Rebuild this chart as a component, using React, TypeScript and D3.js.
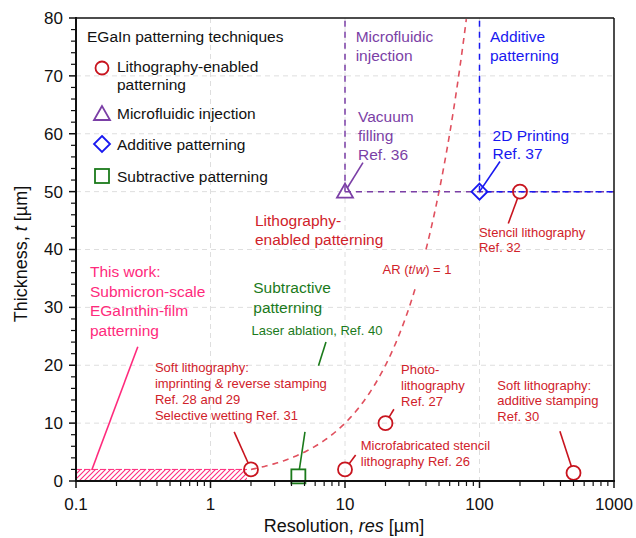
import * as d3 from "d3";
import { useEffect } from "react";

// axis ticks
const xTicks = [0.1, 1, 10, 100, 1000];
const yTicks = [0, 10, 20, 30, 40, 50, 60, 70, 80];

// EGaIn patterning techniques: resolution res [µm] and thickness t [µm]
const lithoRes = [2, 10, 20, 200, 500];
const lithoT = [2, 2, 10, 50, 1.4];
const microRes = [10];
const microT = [50];
const addRes = [100];
const addT = [50];
const subRes = [4.5];
const subT = [0.8];
// this work: hatched band
const thisWorkRes = [0.1, 2];
const thisWorkT = [0, 2];
// AR (t/w) = 1 line, t = res, with a gap for its label
const arStart = 2;
const arEnd = 80;
const arGap = [34, 40];

const W = 636;
const H = 538;
const FONT = "'Liberation Sans', Arial, Helvetica, sans-serif";

const RED = "#c8141e";
const RED_TXT = "#d0222a";
const PINK = "#ff2a7c";
const PURPLE = "#7b3fa6";
const BLUE = "#1818f0";
const GREEN = "#1b7a1b";

const x = d3.scaleLog().domain([0.1, 1000]).range([76, 614]);
const y = d3.scaleLinear().domain([0, 80]).range([481, 18]);

type Note = { lines: string[]; res: number; t: number; color: string; size: number; gap: number };

const notes: Note[] = [
  { lines: ["Microfluidic", "injection"], res: 12, t: 75.8, color: PURPLE, size: 15.5, gap: 18.5 },
  { lines: ["Additive", "patterning"], res: 119.7, t: 75.8, color: BLUE, size: 15.5, gap: 18.5 },
  { lines: ["Vacuum", "filling", "Ref. 36"], res: 12.5, t: 62, color: PURPLE, size: 15.5, gap: 19 },
  { lines: ["2D Printing", "Ref. 37"], res: 125, t: 58.8, color: BLUE, size: 15.5, gap: 18.5 },
  { lines: ["Stencil lithography", "Ref. 32"], res: 99, t: 42.1, color: RED_TXT, size: 13, gap: 15 },
  { lines: ["Lithography-", "enabled patterning"], res: 2.14, t: 44.1, color: RED_TXT, size: 15.5, gap: 19.3 },
  { lines: ["Subtractive", "patterning"], res: 2.08, t: 32.5, color: GREEN, size: 15.5, gap: 20 },
  { lines: ["Laser ablation, Ref. 40"], res: 2.02, t: 25.2, color: GREEN, size: 13, gap: 15 },
  { lines: ["This work:", "Submicron-scale", "EGaInthin-film", "patterning"], res: 0.127, t: 35.2, color: PINK, size: 15.5, gap: 19.5 },
  { lines: ["Soft lithography:", "imprinting & reverse stamping", "Ref. 28 and 29", "Selective wetting Ref. 31"], res: 0.386, t: 18.8, color: RED_TXT, size: 13, gap: 15.8 },
  { lines: ["Photo-", "lithography", "Ref. 27"], res: 26.1, t: 18.5, color: RED_TXT, size: 13, gap: 16 },
  { lines: ["Microfabricated stencil", "lithography Ref. 26"], res: 13.1, t: 5.4, color: RED_TXT, size: 13, gap: 16 },
  { lines: ["Soft lithography:", "additive stamping", "Ref. 30"], res: 135.6, t: 15.8, color: RED_TXT, size: 13, gap: 15.5 },
];

// leader lines: from label end to a marker, shortened by px at the marker end
type Leader = { from: [number, number]; to: [number, number]; cut: number; color: string };
const leaders: Leader[] = [
  { from: [0.131, 1.9], to: [0.288, 23.2], cut: 0, color: PINK },
  { from: [1.5, 8.5], to: [lithoRes[0], lithoT[0]], cut: 7, color: RED },
  { from: [7.22, 24.0], to: [6.35, 19.9], cut: 0, color: GREEN },
  { from: [5.04, 8.47], to: [subRes[0], subT[0]], cut: 7, color: GREEN },
  { from: [13.6, 55.0], to: [microRes[0], microT[0]], cut: 4, color: PURPLE },
  { from: [142, 55.2], to: [addRes[0], addT[0]], cut: 0, color: BLUE },
  { from: [163.7, 44.5], to: [lithoRes[3], lithoT[3]], cut: 7, color: RED },
  { from: [23.1, 12.4], to: [lithoRes[2], lithoT[2]], cut: 7, color: RED },
  { from: [12.0, 4.5], to: [lithoRes[1], lithoT[1]], cut: 7, color: RED },
  { from: [396, 8.6], to: [lithoRes[4], lithoT[4]], cut: 7, color: RED },
];

function Circle({ cx, cy, r = 7, color }: any) {
  return <circle cx={cx} cy={cy} r={r} fill="none" stroke={color} strokeWidth={1.8} />;
}
function Triangle({ cx, cy, color }: any) {
  const p = `${cx},${cy - 8} ${cx - 8},${cy + 6} ${cx + 8},${cy + 6}`;
  return <polygon points={p} fill="none" stroke={color} strokeWidth={1.8} />;
}
function Diamond({ cx, cy, color }: any) {
  const p = `${cx},${cy - 8} ${cx + 8},${cy} ${cx},${cy + 8} ${cx - 8},${cy}`;
  return <polygon points={p} fill="none" stroke={color} strokeWidth={1.8} />;
}
function Square({ cx, cy, color }: any) {
  return <rect x={cx - 7} y={cy - 7} width={14} height={14} fill="none" stroke={color} strokeWidth={1.8} />;
}

function arPath(a: number, b: number) {
  const pts = d3.range(Math.log10(a), Math.log10(b) + 1e-9, 0.01).map((l) => Math.pow(10, l));
  return d3.line<number>().x((d) => x(d)).y((d) => y(d))(pts) || "";
}

export default function App() {
  useEffect(() => {
    document.body.style.margin = "0";
  }, []);

  const minorX: number[] = [];
  [0.1, 1, 10, 100].forEach((dec) => {
    for (let k = 2; k <= 9; k++) minorX.push(dec * k);
  });
  const minorY = d3.range(0, 81, 2).filter((v) => v % 10 !== 0);

  const leaderPts = (l: Leader) => {
    const x1 = x(l.from[0]), y1 = y(l.from[1]);
    let x2 = x(l.to[0]), y2 = y(l.to[1]);
    const dx = x2 - x1, dy = y2 - y1;
    const len = Math.hypot(dx, dy);
    x2 -= (dx / len) * l.cut;
    y2 -= (dy / len) * l.cut;
    return { x1, y1, x2, y2 };
  };

  return (
    <svg width={W} height={H} style={{ display: "block" }} fontFamily={FONT}>
      <defs>
        <pattern id="hatch" width={5} height={5} patternUnits="userSpaceOnUse">
          <path d="M-1,6 L6,-1 M-1,1 L1,-1 M4,6 L6,4" stroke={PINK} strokeWidth={1.1} />
        </pattern>
      </defs>
      <rect width={W} height={H} fill="#fff" />

      {/* grid */}
      {yTicks.slice(1, -1).map((v) => (
        <line key={"gy" + v} x1={76} x2={614} y1={y(v)} y2={y(v)} stroke="#dedede" strokeDasharray="5,4" />
      ))}
      {xTicks.slice(1, -1).map((v) => (
        <line key={"gx" + v} x1={x(v)} x2={x(v)} y1={18} y2={481} stroke="#dedede" strokeDasharray="5,4" />
      ))}

      {/* this work band */}
      <rect
        x={x(thisWorkRes[0])}
        y={y(thisWorkT[1])}
        width={x(thisWorkRes[1]) - x(thisWorkRes[0]) - 4}
        height={y(thisWorkT[0]) - y(thisWorkT[1])}
        fill="url(#hatch)"
      />
      <line x1={x(thisWorkRes[0])} x2={x(thisWorkRes[1]) - 4} y1={y(thisWorkT[1])} y2={y(thisWorkT[1])} stroke={PINK} strokeWidth={1} strokeDasharray="6,2" />

      {/* AR = 1 line */}
      <path d={arPath(arStart, arGap[0])} fill="none" stroke="#e0505e" strokeWidth={1.6} strokeDasharray="6,5" />
      <path d={arPath(arGap[1], arEnd)} fill="none" stroke="#e0505e" strokeWidth={1.6} strokeDasharray="6,5" />

      {/* microfluidic & additive boundaries */}
      <line x1={x(microRes[0])} x2={x(microRes[0])} y1={y(microT[0])} y2={18} stroke={PURPLE} strokeWidth={1.5} strokeDasharray="6,5" />
      <line x1={x(microRes[0])} x2={614} y1={y(microT[0])} y2={y(microT[0])} stroke={PURPLE} strokeWidth={1.5} strokeDasharray="6,5" />
      <line x1={x(addRes[0])} x2={x(addRes[0])} y1={y(addT[0])} y2={18} stroke={BLUE} strokeWidth={1.5} strokeDasharray="6,5" />
      <line x1={x(addRes[0])} x2={614} y1={y(addT[0])} y2={y(addT[0])} stroke={BLUE} strokeWidth={1.5} strokeDasharray="6,5" strokeDashoffset={5} />

      {/* leaders */}
      {leaders.map((l, i) => {
        const p = leaderPts(l);
        return <line key={"ld" + i} {...p} stroke={l.color} strokeWidth={1.6} />;
      })}

      {/* markers */}
      {lithoRes.map((r, i) => (
        <Circle key={"c" + i} cx={x(r)} cy={y(lithoT[i])} color={RED} />
      ))}
      {microRes.map((r, i) => (
        <Triangle key={"t" + i} cx={x(r)} cy={y(microT[i])} color={PURPLE} />
      ))}
      {addRes.map((r, i) => (
        <Diamond key={"d" + i} cx={x(r)} cy={y(addT[i])} color={BLUE} />
      ))}
      {subRes.map((r, i) => (
        <Square key={"s" + i} cx={x(r)} cy={y(subT[i])} color={GREEN} />
      ))}

      {/* annotations */}
      {notes.map((n, i) => (
        <text key={"n" + i} x={x(n.res)} y={y(n.t)} fill={n.color} fontSize={n.size}>
          {n.lines.map((s, j) => (
            <tspan key={j} x={x(n.res)} dy={j === 0 ? 0 : n.gap}>
              {s}
            </tspan>
          ))}
        </text>
      ))}
      <text x={x(34.3)} y={y(35.8)} fill={RED_TXT} fontSize={13} textAnchor="middle">
        AR (<tspan fontStyle="italic">t</tspan>/<tspan fontStyle="italic">w</tspan>) = 1
      </text>

      {/* legend */}
      <text x={87} y={42} fontSize={15.5} fill="#111">EGaIn patterning techniques</text>
      <Circle cx={102} cy={68} r={6.5} color={RED} />
      <text x={117} y={72} fontSize={15.5} fill="#111">
        <tspan x={117}>Lithography-enabled</tspan>
        <tspan x={117} dy={18}>patterning</tspan>
      </text>
      <Triangle cx={102} cy={114} color={PURPLE} />
      <text x={117} y={118.5} fontSize={15.5} fill="#111">Microfluidic injection</text>
      <Diamond cx={102} cy={144} color={BLUE} />
      <text x={117} y={149.5} fontSize={15.5} fill="#111">Additive patterning</text>
      <Square cx={102} cy={176} color={GREEN} />
      <text x={117} y={181.5} fontSize={15.5} fill="#111">Subtractive patterning</text>

      {/* frame */}
      <line x1={76} x2={614} y1={18} y2={18} stroke="#111" strokeWidth={1.5} />
      <line x1={614} x2={614} y1={18} y2={481} stroke="#111" strokeWidth={1.5} />

      {/* y axis */}
      <line x1={76} x2={76} y1={17} y2={482} stroke="#111" strokeWidth={2} />
      {yTicks.map((v) => (
        <g key={"yt" + v}>
          <line x1={69} x2={76} y1={y(v)} y2={y(v)} stroke="#111" strokeWidth={1.5} />
          <text x={63} y={y(v)} dy="0.35em" textAnchor="end" fontSize={17} fill="#111">
            {v}
          </text>
        </g>
      ))}
      {minorY.map((v) => (
        <line key={"ym" + v} x1={71} x2={76} y1={y(v)} y2={y(v)} stroke="#111" strokeWidth={1.2} />
      ))}

      {/* x axis */}
      <line x1={75} x2={615} y1={481} y2={481} stroke="#111" strokeWidth={2} />
      {xTicks.map((v) => (
        <g key={"xt" + v}>
          <line x1={x(v)} x2={x(v)} y1={481} y2={488} stroke="#111" strokeWidth={1.5} />
          <text x={x(v)} y={510} textAnchor="middle" fontSize={17} fill="#111">
            {v}
          </text>
        </g>
      ))}
      {minorX.map((v) => (
        <line key={"xm" + v} x1={x(v)} x2={x(v)} y1={481} y2={486} stroke="#111" strokeWidth={1.2} />
      ))}

      {/* axis titles */}
      <text x={344} y={532} textAnchor="middle" fontSize={18} fill="#111">
        Resolution, <tspan fontStyle="italic">res</tspan> [µm]
      </text>
      <text transform="translate(27,254) rotate(-90)" textAnchor="middle" fontSize={18} fill="#111">
        Thickness, <tspan fontStyle="italic">t</tspan> [µm]
      </text>
    </svg>
  );
}
